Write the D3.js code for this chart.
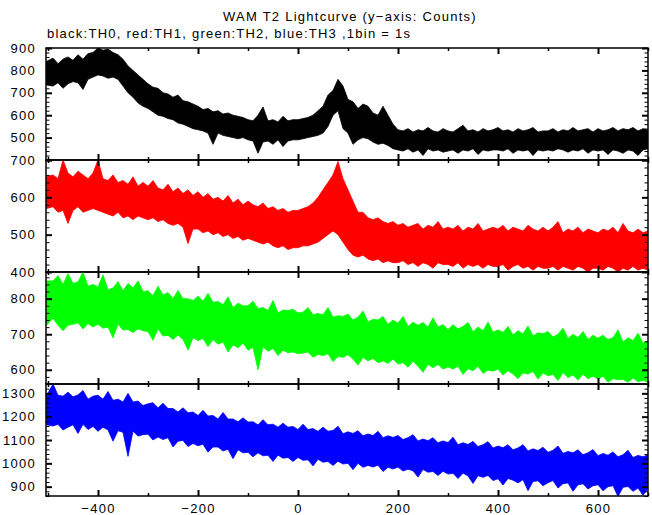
<!DOCTYPE html>
<html><head><meta charset="utf-8">
<script src="https://cdn.jsdelivr.net/npm/d3@7"></script>
<style>
body{margin:0;background:#fff;}
svg{display:block;}
text{font-family:"Liberation Sans",Arial,sans-serif;font-size:13px;letter-spacing:1.25px;fill:#000;}
</style></head><body>
<svg id="c" width="652" height="515"></svg>
<script>
// time bins (s): first bin at the start of the light curve, then every 10 s
const times = [-503].concat(d3.range(-490, 701, 10));

// TH0 (black) upper / lower envelope of the 1 s light curve
const th0Hi = [840,855,830,850,860,845,870,850,875,880, 900,890,895,880,870,850,820,800,780,760,
  740,725,720,700,695,680,690,665,660,650, 640,625,630,615,620,605,610,600,595,590,
  580,575,600,637,575,580,570,595,575,580, 580,585,590,600,620,640,690,710,760,730,
  670,660,630,650,640,610,600,640,600,560, 535,530,540,525,535,530,545,530,525,540,
  530,525,540,555,530,535,525,540,530,535, 545,530,535,525,540,530,535,545,525,530,
  530,540,525,535,530,545,530,535,540,525, 540,530,535,545,530,540,535,545,530,540,535];
const th0Lo = [735,730,745,720,740,750,745,715,760,770, 780,775,765,770,760,730,700,680,655,640,
  630,615,600,595,585,580,565,560,550,540, 535,530,520,470,520,510,505,500,495,500,
  490,485,430,480,485,470,490,460,485,490, 490,495,500,505,510,520,550,600,620,540,
  520,470,490,500,495,480,470,475,465,450, 445,440,450,435,445,420,450,440,445,435,
  440,445,430,445,440,450,425,445,440,445, 445,440,450,430,445,440,445,420,445,440,
  445,440,450,445,435,445,440,450,430,445, 440,445,425,445,440,430,445,440,420,445,450];

// TH1 (red)
const th1Hi = [655,660,650,700,665,655,670,660,650,665, 700,650,645,660,640,645,635,655,630,640,
  630,645,625,620,635,615,625,610,620,605, 615,600,610,595,600,590,605,585,595,580,
  590,580,575,585,570,575,565,570,560,565, 565,570,575,585,600,620,640,660,696,650,
  620,590,560,560,545,540,545,535,530,535, 525,530,520,525,530,515,525,520,535,515,
  520,515,525,510,520,515,530,510,515,520, 515,525,510,520,515,510,525,515,510,520,
  510,520,535,505,515,510,520,505,515,510, 505,515,510,520,505,530,510,505,515,505,510];
const th1Lo = [570,575,560,565,530,565,575,560,565,570, 565,560,555,550,560,545,550,540,550,545,
  540,545,535,540,530,525,530,520,476,515, 515,505,510,500,505,495,500,490,495,485,
  490,485,480,475,480,470,465,470,460,465, 465,470,470,475,480,490,500,510,500,480,
  460,445,440,445,435,430,435,425,430,425, 425,430,420,425,415,425,420,410,425,420,
  420,415,425,410,420,415,420,410,420,415, 415,420,405,415,420,410,415,405,415,410,
  410,415,405,415,410,405,415,410,400,410, 410,405,415,410,400,410,405,415,405,410,405];

// TH2 (green)
const th2Hi = [850,850,865,840,870,843,847,875,835,840, 833,867,825,830,848,822,843,830,850,820,
  822,808,835,810,817,800,823,800,800,795, 807,793,815,790,792,783,805,775,787,780,
  780,793,772,775,767,795,760,768,767,770, 760,762,775,755,758,755,775,748,752,750,
  757,740,748,765,735,742,740,750,728,740, 731,750,722,734,725,733,720,746,720,727,
  713,727,715,722,733,707,720,710,734,706, 712,705,722,698,710,701,723,695,704,701,
  708,692,700,717,688,700,691,708,685,697, 689,697,685,690,712,678,690,682,703,675,681];
const th2Lo = [725,745,725,710,725,728,732,715,730,720, 728,717,720,690,728,712,713,705,715,710,
  707,683,715,695,697,685,698,685,655,690, 682,688,665,685,672,678,650,670,662,675,
  655,663,600,665,652,660,640,655,648,650, 645,647,650,635,643,640,645,623,637,635,
  642,630,613,635,625,632,620,625,618,630, 616,620,607,624,610,593,615,606,615,602,
  608,602,610,587,603,597,610,590,599,596, 602,585,597,588,575,591,588,595,574,591,
  583,587,570,592,578,585,571,588,575,582, 574,582,565,575,572,573,565,577,566,570,566];

// TH3 (blue)
const th3Hi = [1290,1340,1292,1288,1305,1285,1293,1312,1275,1288, 1292,1275,1308,1270,1275,1263,1300,1263,1267,1248,
  1255,1260,1238,1257,1235,1235,1220,1238,1217,1220, 1205,1227,1203,1205,1190,1218,1190,1190,1178,1195,
  1177,1178,1165,1187,1165,1168,1155,1172,1155,1158, 1145,1168,1145,1149,1137,1155,1138,1141,1159,1127,
  1135,1128,1140,1118,1126,1119,1137,1110,1118,1111, 1119,1102,1110,1123,1096,1104,1097,1110,1088,1096,
  1089,1112,1080,1088,1081,1094,1072,1080,1093,1066, 1074,1067,1080,1058,1066,1080,1053,1062,1055,1069,
  1047,1056,1074,1043,1051,1045,1058,1037,1045,1059, 1033,1042,1035,1049,1028,1037,1056,1025,1034,1028,1037];
const th3Lo = [1165,1160,1167,1143,1155,1165,1128,1167,1145,1158, 1137,1155,1143,1095,1140,1133,1030,1138,1117,1123,
  1125,1100,1113,1102,1110,1070,1095,1098,1072,1085, 1075,1082,1048,1070,1070,1053,1060,1020,1058,1045,
  1047,1028,1045,1032,1035,1008,1035,1022,1025,1008, 1025,1013,1015,989,1017,1005,1008,991,1009,997,
  1000,973,1000,983,991,984,992,965,983,976, 984,967,975,968,941,974,962,965,948,966,
  954,957,935,958,946,914,947,940,948,926, 934,907,935,928,916,930,883,922,925,904,
  917,926,894,913,916,880,908,912,890,904, 908,882,900,904,858,897,901,880,894,863,892];

// axis ranges and labels
const xRange = [-504, 700];
const xMajor = [-400, -200, 0, 200, 400, 600];
const xMinor = [-500, -300, -100, 100, 300, 500, 700];
const th0Range = [400, 900], th1Range = [400, 700], th2Range = [560, 875], th3Range = [860, 1340];
const th0Labels = [500, 600, 700, 800, 900];
const th1Labels = [400, 500, 600, 700];
const th2Labels = [600, 700, 800];
const th3Labels = [900, 1000, 1100, 1200, 1300];
const seriesColors = ["#000000", "#ff0000", "#00ff00", "#0000ff"];
const titleText = "WAM T2 Lightcurve (y\u2212axis: Counts)";
const subtitleText = "black:TH0, red:TH1, green:TH2, blue:TH3 ,1bin = 1s";

const svg = d3.select("#c");
const L = 46, R = 648, top0 = 48, ph = 112;
const x = d3.scaleLinear().domain(xRange).range([L, R]);

const panels = [
  {hi: th0Hi, lo: th0Lo, dom: th0Range, labels: th0Labels},
  {hi: th1Hi, lo: th1Lo, dom: th1Range, labels: th1Labels},
  {hi: th2Hi, lo: th2Lo, dom: th2Range, labels: th2Labels},
  {hi: th3Hi, lo: th3Lo, dom: th3Range, labels: th3Labels}
];

function tickStyle(sel, w) {
  sel.select(".domain").remove();
  sel.selectAll(".tick line").attr("stroke", "#000").attr("stroke-width", w);
}

panels.forEach((p, i) => {
  const yT = top0 + i * ph, yB = yT + ph;
  const y = d3.scaleLinear().domain(p.dom).range([yB, yT]);
  const cid = "clip" + i;
  svg.append("clipPath").attr("id", cid).append("rect")
    .attr("x", L).attr("y", yT).attr("width", R - L).attr("height", ph);
  const area = d3.area()
    .x((d, j) => x(times[j]))
    .y0((d, j) => y(p.lo[j]))
    .y1((d, j) => y(p.hi[j]));
  svg.append("path").datum(p.hi).attr("d", area)
    .attr("fill", seriesColors[i]).attr("stroke", seriesColors[i]).attr("stroke-width", 0.8)
    .attr("stroke-linejoin", "miter")
    .attr("clip-path", `url(#${cid})`);

  const majorY = d3.range(Math.ceil(p.dom[0] / 100) * 100, p.dom[1] + 1, 100);
  const minorY = d3.range(Math.ceil(p.dom[0] / 20) * 20, p.dom[1] + 1, 20).filter(v => v % 100 !== 0);

  // left & right ticks (inward)
  svg.append("g").attr("transform", `translate(${L},0)`)
    .call(d3.axisRight(y).tickValues(minorY).tickSize(3.5).tickFormat("")).call(tickStyle, 1);
  svg.append("g").attr("transform", `translate(${L},0)`)
    .call(d3.axisRight(y).tickValues(majorY).tickSize(6).tickFormat("")).call(tickStyle, 2);
  svg.append("g").attr("transform", `translate(${R},0)`)
    .call(d3.axisLeft(y).tickValues(minorY).tickSize(3.5).tickFormat("")).call(tickStyle, 1);
  svg.append("g").attr("transform", `translate(${R},0)`)
    .call(d3.axisLeft(y).tickValues(majorY).tickSize(6).tickFormat("")).call(tickStyle, 2);
  // top & bottom ticks (inward)
  svg.append("g").attr("transform", `translate(0,${yT})`)
    .call(d3.axisBottom(x).tickValues(xMinor).tickSize(3).tickFormat("")).call(tickStyle, 1.5);
  svg.append("g").attr("transform", `translate(0,${yT})`)
    .call(d3.axisBottom(x).tickValues(xMajor).tickSize(6).tickFormat("")).call(tickStyle, 2);
  svg.append("g").attr("transform", `translate(0,${yB})`)
    .call(d3.axisTop(x).tickValues(xMinor).tickSize(3).tickFormat("")).call(tickStyle, 1.5);
  svg.append("g").attr("transform", `translate(0,${yB})`)
    .call(d3.axisTop(x).tickValues(xMajor).tickSize(6).tickFormat("")).call(tickStyle, 2);

  // y labels
  const ly = svg.append("g").attr("transform", `translate(${L},0)`)
    .call(d3.axisLeft(y).tickValues(p.labels).tickSize(0).tickPadding(10).tickFormat(d3.format("d")));
  ly.select(".domain").remove();
  ly.attr("font-size", null).attr("font-family", null);

  // frame
  svg.append("rect").attr("x", L).attr("y", yT).attr("width", R - L).attr("height", ph)
    .attr("fill", "none").attr("stroke", "#000").attr("stroke-width", 1.5);

  if (i === panels.length - 1) {
    const lx = svg.append("g").attr("transform", `translate(0,${yB})`)
      .call(d3.axisBottom(x).tickValues(xMajor).tickSize(0).tickPadding(7.5));
    lx.select(".domain").remove();
    lx.attr("font-size", null).attr("font-family", null);
  }
});

svg.append("text").attr("x", 223).attr("y", 21).text(titleText);
svg.append("text").attr("x", 47).attr("y", 38).text(subtitleText);
</script>
</body></html>
